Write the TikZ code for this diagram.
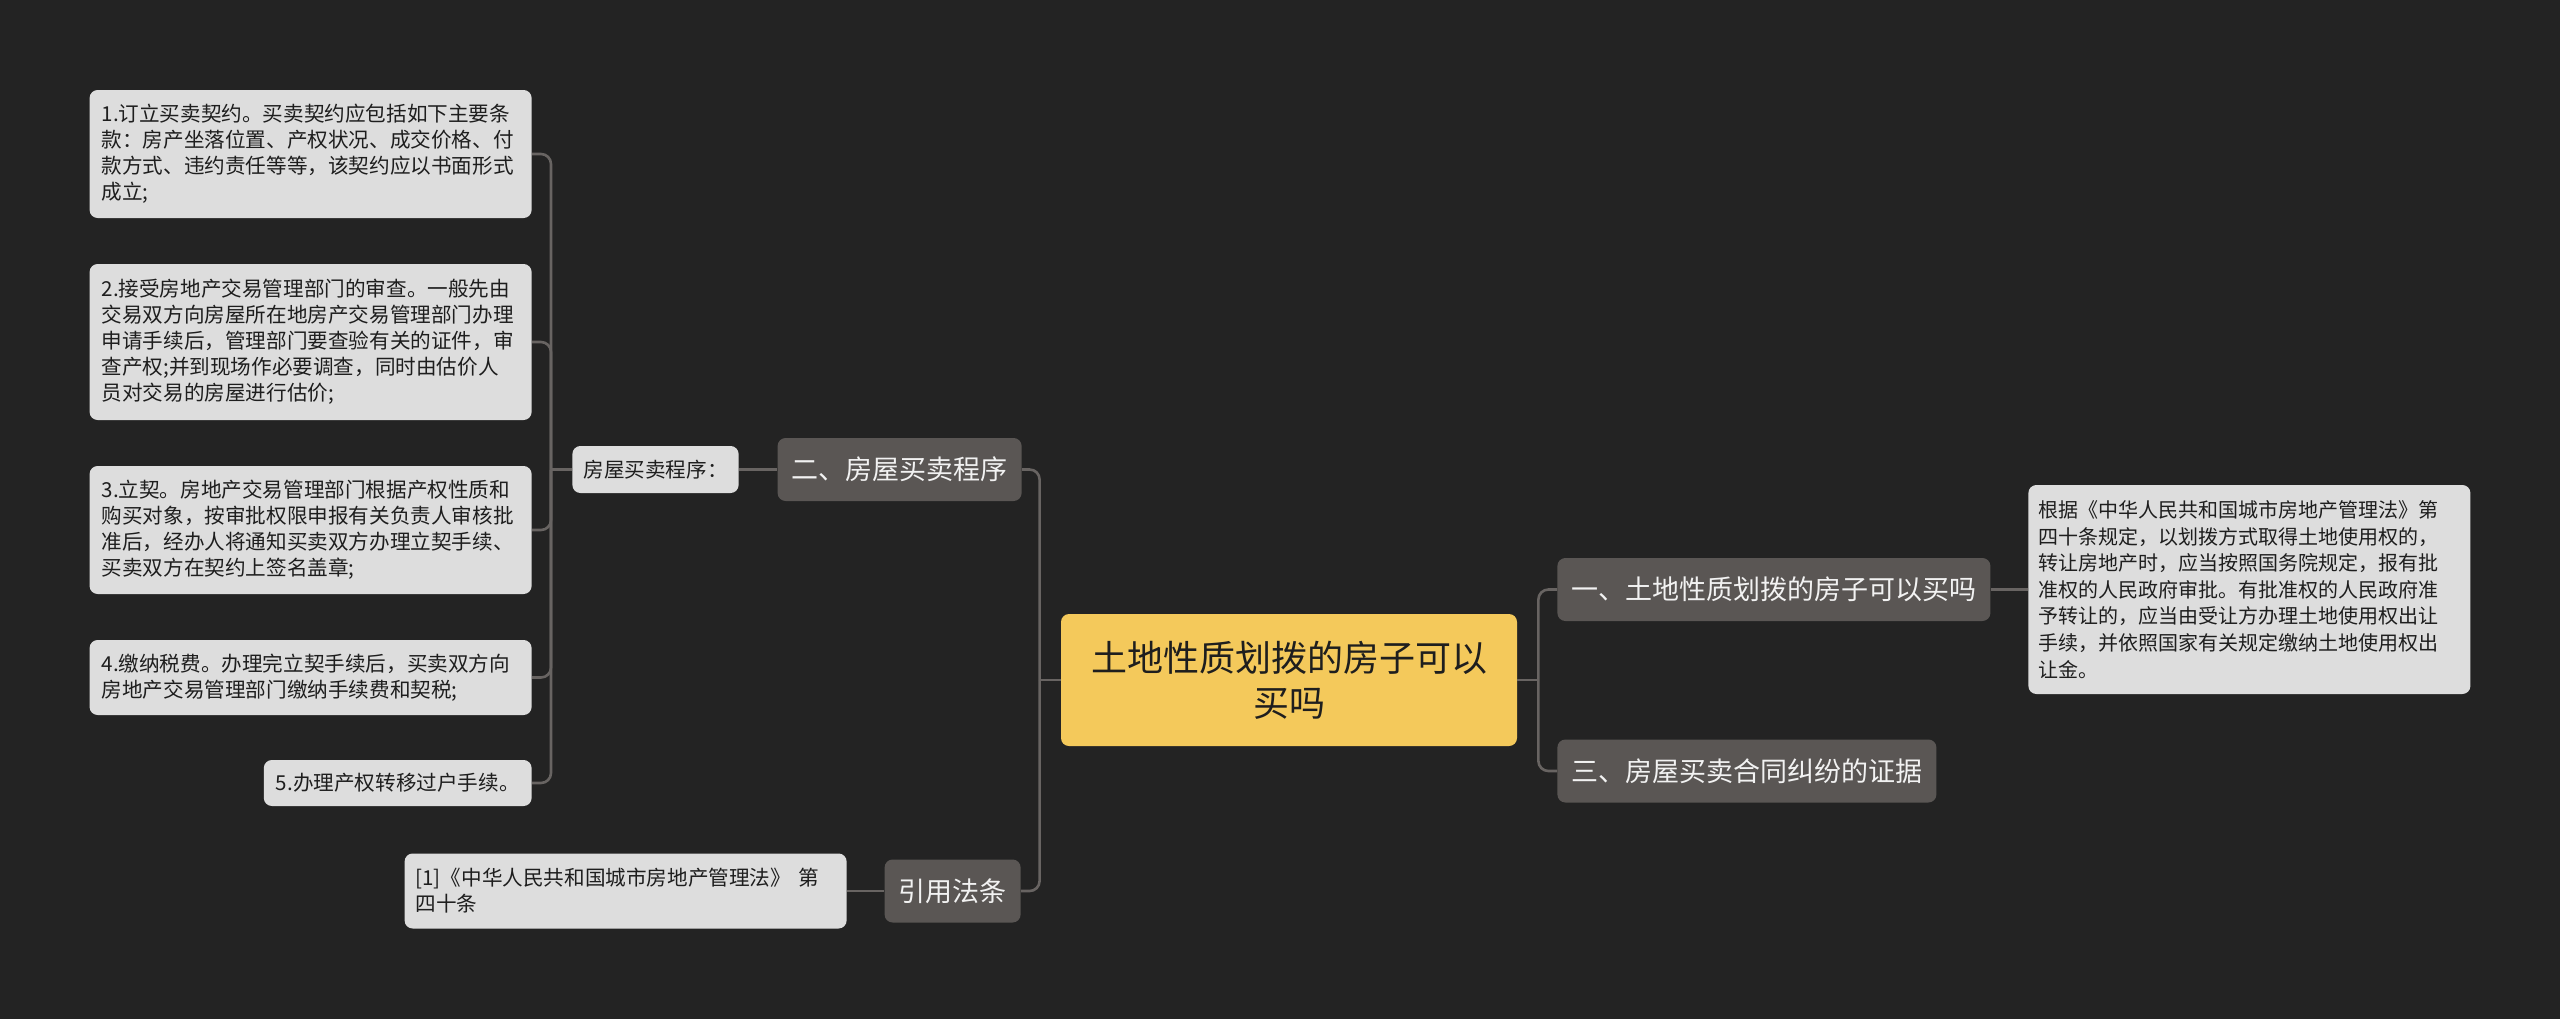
\documentclass[tikz,border=0pt]{standalone}
\usepackage{fontspec}
\setmainfont{Noto Sans CJK SC}
\definecolor{fwbg}{HTML}{232323}
\definecolor{fwlight}{HTML}{DDDDDD}
\definecolor{fwgray}{HTML}{5A5654}
\definecolor{fwyellow}{HTML}{F4C95B}
\definecolor{fwline}{HTML}{686462}
\definecolor{fwink}{HTML}{1E1E1E}
\definecolor{fwwhite}{HTML}{F2F2F2}
\begin{document}
\begin{tikzpicture}[
  x=0.5pt, y=-0.5pt,
  fwroot/.style = {fill=fwyellow, text=fwink, rounded corners=4pt, align=center,
    font=\fontsize{18}{22.5}\selectfont, minimum width=228pt, minimum height=66pt},
  fwtopic/.style = {fill=fwgray, text=fwwhite, rounded corners=4pt,
    font=\fontsize{13.5}{16}\selectfont, minimum height=31.5pt, inner xsep=7pt},
  fwleaf/.style = {fill=fwlight, text=fwink, rounded corners=4pt, align=left,
    font=\fontsize{10.3}{13}\selectfont, inner xsep=6pt},
  fwlink/.style = {draw=fwline, line width=1.3pt, rounded corners=5pt}
]
  % 背景
  \fill[fwbg] (0,0) rectangle (2560,1019);
  % 中心
  \node[fwroot] (root) at (1289,680) {土地性质划拨的房子可以\\买吗};
  % 左侧主题
  \node[fwtopic, anchor=east] (two) at (1022,469.5) {二、房屋买卖程序};
  \node[fwtopic, anchor=east] (cite) at (1021,891) {引用法条};
  % 右侧主题
  \node[fwtopic, anchor=west] (one) at (1557,589.5) {一、土地性质划拨的房子可以买吗};
  \node[fwtopic, anchor=west] (three) at (1557,771) {三、房屋买卖合同纠纷的证据};
  % 叶子
  \node[fwleaf, anchor=east, inner xsep=5.5pt, minimum height=23.5pt] (proc) at (739,469.5) {房屋买卖程序：};
  \node[fwleaf, anchor=east, text width=209pt, minimum height=64pt] (step1) at (532,154) {1.订立买卖契约。买卖契约应包括如下主要条\\款：房产坐落位置、产权状况、成交价格、付\\款方式、违约责任等等，该契约应以书面形式\\成立;};
  \node[fwleaf, anchor=east, text width=209pt, minimum height=78pt] (step2) at (532,342) {2.接受房地产交易管理部门的审查。一般先由\\交易双方向房屋所在地房产交易管理部门办理\\申请手续后，管理部门要查验有关的证件，审\\查产权;并到现场作必要调查，同时由估价人\\员对交易的房屋进行估价;};
  \node[fwleaf, anchor=east, text width=209pt, minimum height=64pt] (step3) at (532,530) {3.立契。房地产交易管理部门根据产权性质和\\购买对象，按审批权限申报有关负责人审核批\\准后，经办人将通知买卖双方办理立契手续、\\买卖双方在契约上签名盖章;};
  \node[fwleaf, anchor=east, text width=209pt, minimum height=37.5pt] (step4) at (532,677.5) {4.缴纳税费。办理完立契手续后，买卖双方向\\房地产交易管理部门缴纳手续费和契税;};
  \node[fwleaf, anchor=east, minimum height=23pt] (step5) at (532,783) {5.办理产权转移过户手续。};
  \node[fwleaf, anchor=east, inner xsep=5.5pt, text width=210pt, minimum height=37.5pt] (ref) at (847,891) {[1]《中华人民共和国城市房地产管理法》 第\\四十条};
  \node[fwleaf, anchor=west, inner xsep=5pt, text width=211pt, minimum height=104.5pt,
    font=\fontsize{10}{13.3}\selectfont] (law) at (2028,589.5) {根据《中华人民共和国城市房地产管理法》第\\四十条规定，以划拨方式取得土地使用权的，\\转让房地产时，应当按照国务院规定，报有批\\准权的人民政府审批。有批准权的人民政府准\\予转让的，应当由受让方办理土地使用权出让\\手续，并依照国家有关规定缴纳土地使用权出\\让金。};
  % 连线
  \coordinate (lj) at ([xshift=-10.5pt]root.west);
  \coordinate (rj) at ([xshift=10.5pt]root.east);
  \coordinate (pj) at ([xshift=-10.5pt]proc.west);
  \draw[fwlink] (root.west) -- (lj);
  \draw[fwlink] (lj) |- (two.east);
  \draw[fwlink] (lj) |- (cite.east);
  \draw[fwlink] (root.east) -- (rj);
  \draw[fwlink] (rj) |- (one.west);
  \draw[fwlink] (rj) |- (three.west);
  \draw[fwlink] (one.east) -- (law.west);
  \draw[fwlink] (two.west) -- (proc.east);
  \draw[fwlink] (cite.west) -- (ref.east);
  \draw[fwlink] (proc.west) -- (pj);
  \foreach \s in {1,...,5}
    \draw[fwlink] (pj) |- (step\s.east);
\end{tikzpicture}
\end{document}
